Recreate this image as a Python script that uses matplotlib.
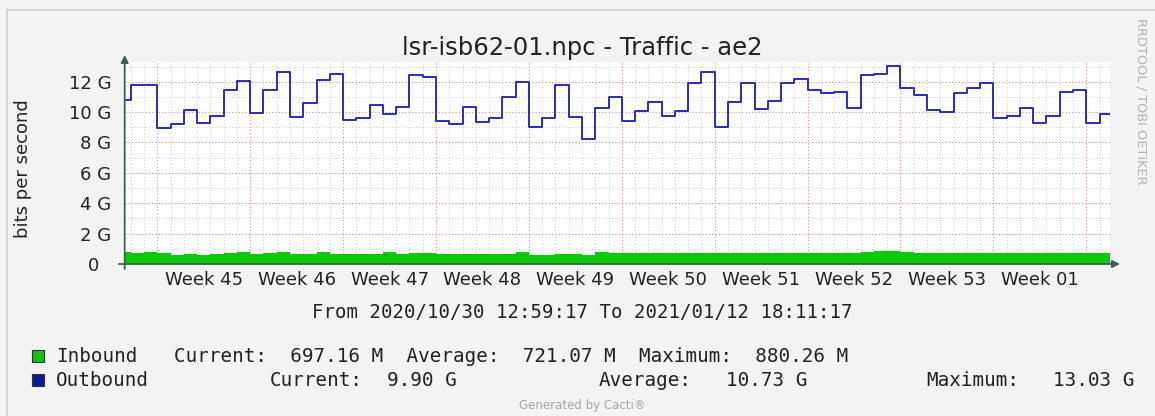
# Cacti traffic graph for lsr-isb62-01.npc ae2, redrawn from the rrdtool picture

import datetime as dt
import matplotlib
matplotlib.use('Agg')
import matplotlib.pyplot as plt
import matplotlib.dates as mdates
from matplotlib.lines import Line2D
from matplotlib.patches import Rectangle

# daily averages in G, index 0 = 2020/10/30 (partial day), last = 2021/01/12
outbound = [10.79, 11.78, 11.78, 8.93, 9.21, 10.13, 9.30, 9.74, 11.45, 12.06,
            9.96, 11.45, 12.61, 9.69, 10.57, 12.10, 12.50, 9.47, 9.60, 10.46,
            9.85, 10.35, 12.43, 12.32, 9.41, 9.21, 10.35, 9.32, 9.58, 11.01,
            11.97, 9.03, 9.58, 11.78, 9.69, 8.20, 10.24, 11.01, 9.41, 10.07,
            10.68, 9.74, 10.07, 11.89, 12.61, 9.03, 10.68, 11.89, 10.18, 10.72,
            11.89, 12.17, 11.45, 11.23, 11.34, 10.24, 12.43, 12.54, 13.03, 11.56,
            11.16, 10.13, 10.02, 11.23, 11.56, 11.89, 9.58, 9.74, 10.24, 9.30,
            9.74, 11.32, 11.43, 9.30, 9.90]
inbound = [0.77, 0.72, 0.77, 0.72, 0.60, 0.66, 0.60, 0.66, 0.72, 0.77,
           0.66, 0.72, 0.77, 0.66, 0.66, 0.77, 0.66, 0.66, 0.66, 0.66,
           0.77, 0.66, 0.75, 0.75, 0.66, 0.66, 0.66, 0.66, 0.66, 0.66,
           0.77, 0.60, 0.60, 0.66, 0.66, 0.60, 0.77, 0.75, 0.72, 0.70,
           0.72, 0.75, 0.72, 0.70, 0.75, 0.72, 0.75, 0.70, 0.72, 0.75,
           0.72, 0.70, 0.75, 0.72, 0.70, 0.72, 0.80, 0.85, 0.88, 0.80,
           0.72, 0.70, 0.75, 0.72, 0.75, 0.72, 0.70, 0.75, 0.72, 0.72,
           0.75, 0.72, 0.75, 0.70, 0.70]

start = dt.datetime(2020, 10, 30, 12, 59, 17)
end = dt.datetime(2021, 1, 12, 18, 11, 17)

y_ticks = [0, 2, 4, 6, 8, 10, 12]
y_labels = ['0  ', '2 G', '4 G', '6 G', '8 G', '10 G', '12 G']

title = 'lsr-isb62-01.npc - Traffic - ae2'
period = 'From 2020/10/30 12:59:17 To 2021/01/12 18:11:17'
legend_rows = [
    ('Inbound', '#00cc00', [('Current:  697.16 M  Average:  721.07 M  Maximum:  880.26 M', 174)]),
    ('Outbound', '#0a1a9a', [('Current:', 270), ('9.90 G', 387), ('Average:', 599),
                             ('10.73 G', 726), ('Maximum:', 926), ('13.03 G', 1053)]),
]

W, H = 1155, 416


def fx(px):
    return px / W


def fy(py):
    return 1 - py / H


fig = plt.figure(figsize=(W / 100, H / 100), dpi=100, facecolor='#f3f3f3')

# page border
fig.add_artist(Line2D([fx(6.5), fx(6.5)], [fy(9.5), 0], color='#cfcfcf', lw=1.2))
fig.add_artist(Line2D([fx(6.5), 1], [fy(9.5), fy(9.5)], color='#cfcfcf', lw=1.2))

x0, x1 = 124.7, 1109.6
ax = fig.add_axes([fx(x0), fy(264), (x1 - x0) / W, 202 / H])
ax.set_facecolor('white')

edges = [start] + [dt.datetime(2020, 10, 31) + dt.timedelta(days=i) for i in range(len(outbound) - 1)]
xs = mdates.date2num(edges + [end])
ax.set_xlim(xs[0], xs[-1])
ax.set_ylim(0, 13.3)

# grid: days / 1G minor (grey), weeks / 2G major (red)
mondays = [d for d in edges[1:] if d.weekday() == 0]
for d in edges[1:]:
    if d.weekday() != 0:
        ax.axvline(mdates.date2num(d), color='#d4d4d4', lw=0.8, ls=(0, (1, 2)), zorder=0)
for d in mondays:
    ax.axvline(mdates.date2num(d), color='#f08a8a', lw=0.8, ls=(0, (1, 2)), zorder=1)
for v in range(1, 14, 2):
    ax.axhline(v, color='#d4d4d4', lw=0.8, ls=(0, (1, 2)), zorder=0)
for v in y_ticks[1:]:
    ax.axhline(v, color='#f08a8a', lw=0.8, ls=(0, (1, 2)), zorder=1)

ax.fill_between(xs, 0, inbound + [inbound[-1]], step='post', color='#00cc00', lw=0, zorder=2)
ax.plot(xs, outbound + [outbound[-1]], drawstyle='steps-post', color='#2b2bbf', lw=1.4, zorder=3)

# week labels centred in each full week
full_weeks = [m for m in mondays if m + dt.timedelta(days=7) <= end]
ax.set_xticks([mdates.date2num(m + dt.timedelta(days=3.5)) for m in full_weeks])
ax.set_xticklabels([m.strftime('Week %V') for m in full_weeks])
ax.set_yticks(y_ticks)
ax.set_yticklabels(y_labels)
ax.tick_params(length=0, labelsize=13, labelcolor='#222222')
ax.tick_params(axis='y', pad=9.8)
ax.tick_params(axis='x', pad=5)
for s in ax.spines.values():
    s.set_visible(False)

# axes with arrows
arrow = dict(arrowstyle='-|>', color='#3f5f54', lw=1.3, mutation_scale=11, shrinkA=0, shrinkB=0)
ax.annotate('', xy=(fx(1120), fy(264)), xytext=(fx(119), fy(264)),
            xycoords='figure fraction', textcoords='figure fraction', arrowprops=arrow)
ax.annotate('', xy=(fx(x0), fy(55)), xytext=(fx(x0), fy(269)),
            xycoords='figure fraction', textcoords='figure fraction', arrowprops=arrow)

fig.text(fx(582), fy(48), title, ha='center', va='center', fontsize=17.5, color='#222222')
fig.text(fx(23), fy(169), 'bits per second', rotation=90, ha='center', va='center',
         fontsize=13, color='#222222')
fig.text(fx(582), fy(312), period, ha='center', va='center', fontsize=13.7,
         family='DejaVu Sans Mono', color='#222222')

for i, (name, colour, fields) in enumerate(legend_rows):
    yc = 356 + 24 * i
    fig.add_artist(Rectangle((fx(32), fy(yc + 6)), 12 / W, 12 / H, facecolor=colour,
                             edgecolor='#333333', lw=0.8))
    fig.text(fx(56), fy(yc), name, ha='left', va='center', fontsize=13.9,
             family='DejaVu Sans Mono', color='#222222')
    for txt, xp in fields:
        fig.text(fx(xp), fy(yc), txt, ha='left', va='center', fontsize=13.9,
                 family='DejaVu Sans Mono', color='#222222')

fig.text(fx(582), fy(405), 'Generated by Cacti®', ha='center', va='center',
         fontsize=8.5, color='#a8a8a8')
fig.text(fx(1141), fy(101), 'RRDTOOL / TOBI OETIKER', rotation=270, ha='center', va='center',
         fontsize=9.3, color='#b4b4b4')

fig.savefig('out.png', dpi=100, facecolor=fig.get_facecolor())
